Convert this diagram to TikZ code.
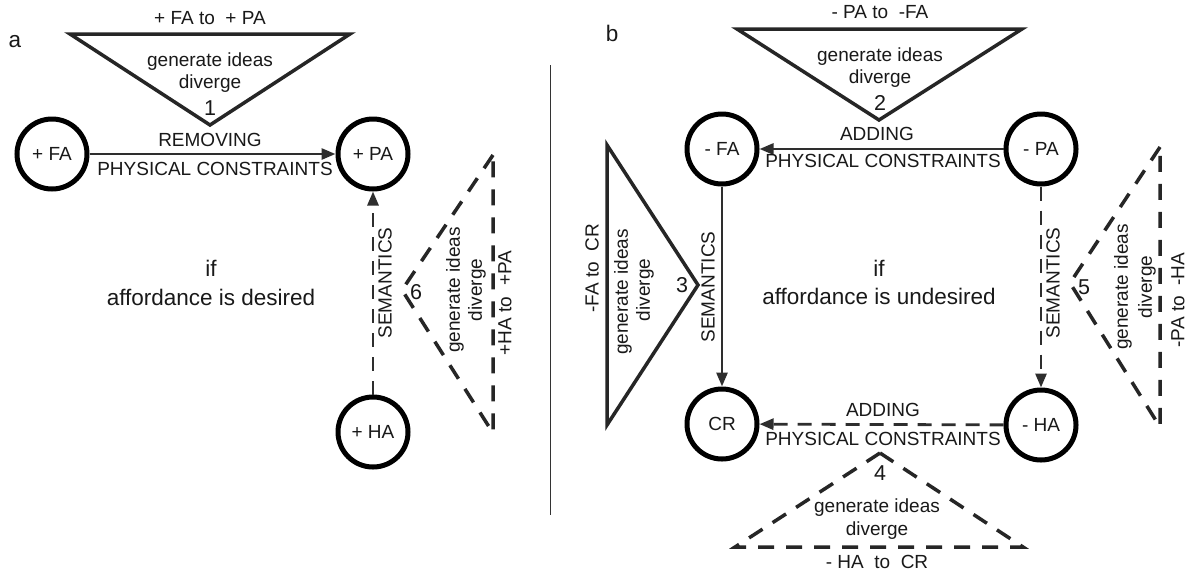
\documentclass[tikz,border=0pt]{standalone}
\usepackage{fontspec}
\setmainfont{Liberation Sans}
\usetikzlibrary{arrows.meta}
\begin{document}
\begin{tikzpicture}[x=1pt,y=-1pt,
  every node/.style={font=\fontsize{19}{22}\selectfont, text=black!90, inner sep=0pt},
  big/.style={font=\fontsize{22.5}{26}\selectfont},
  num/.style={font=\fontsize{21.5}{25}\selectfont},
  state/.style={circle, draw=black, line width=5pt, minimum size=70pt},
  conn/.style={line width=2.8pt, draw=black!82, -{Triangle[length=14pt,width=11pt]}},
  dconn/.style={conn, dash pattern=on 14pt off 10pt},
  tri/.style={line width=3.5pt, draw=black!85, line join=miter},
  dtri/.style={tri, dash pattern=on 16pt off 12pt}
]
\useasboundingbox[fill=white] (0,0) rectangle (1190,574);

% ---------- panel a ----------
\node[big] (la) at (15,42) {a};
\node (t1) at (210,18) {+ FA to \ + PA};
\draw[tri] (70,34) -- (350,34) -- (210,125) -- cycle;
\node (g1) at (210,62) {generate ideas};
\node (d1) at (210,84) {diverge};
\node[num] (n1) at (210,108) {1};

\node[state] (fa) at (52,154) {+ FA};
\node[state] (pa) at (373,154) {+ PA};
\node[state] (ha) at (373,432) {+ HA};

\draw[conn] (fa) -- (pa);
\node (r1) at (210,140) {REMOVING};
\node (p1) at (215,169) {PHYSICAL CONSTRAINTS};

\draw[dconn] (ha) -- (pa);
\node[rotate=90] (s6) at (385,283) {SEMANTICS};

\draw[dtri] (493,155) -- (402,290) -- (493,433) -- cycle;
\node[num] (n6) at (416,292) {6};
\node[rotate=90] (g6) at (455,290) {generate ideas};
\node[rotate=90] (d6) at (477,290) {diverge};
\node[rotate=90] (t6) at (505,303) {+HA to \ +PA};

\node[big] (if1) at (211,268) {if};
\node[big] (af1) at (211,297) {affordance is desired};

% divider
\draw[line width=1pt, black!80] (550,65) -- (550,515);

% ---------- panel b ----------
\node[big] (lb) at (612,33) {b};
\node (t2) at (880,12) {- PA to \ -FA};
\draw[tri] (737,29) -- (1022,29) -- (879,120) -- cycle;
\node (g2) at (880,57) {generate ideas};
\node (d2) at (880,79) {diverge};
\node[num] (n2) at (880,103) {2};

\node[state] (nfa) at (722,149) {- FA};
\node[state] (npa) at (1041,149) {- PA};
\node[state] (cr) at (722,424) {CR};
\node[state] (nha) at (1041,425) {- HA};

\draw[conn] (npa) -- (nfa);
\node (a2) at (877,134) {ADDING};
\node (p2) at (883,161) {PHYSICAL CONSTRAINTS};

\draw[conn] (nfa) -- (cr);
\node[rotate=90] (s3) at (708,287) {SEMANTICS};
\draw[tri] (607,145) -- (698,285) -- (607,425) -- cycle;
\node[num] (n3) at (682,285) {3};
\node[rotate=90] (g3) at (623,292) {generate ideas};
\node[rotate=90] (d3) at (645,290) {diverge};
\node[rotate=90] (t3) at (592,268) {-FA to \ CR};

\draw[dconn] (npa) -- (nha);
\node[rotate=90] (s5) at (1053,283) {SEMANTICS};
\draw[dtri] (1160,147) -- (1070,283) -- (1160,427) -- cycle;
\node[num] (n5) at (1084,287) {5};
\node[rotate=90] (g5) at (1123,287) {generate ideas};
\node[rotate=90] (d5) at (1147,287) {diverge};
\node[rotate=90] (t5) at (1178,300) {-PA to \ -HA};

\draw[dconn] (nha) -- (cr);
\node (a4) at (883,410) {ADDING};
\node (p4) at (883,439) {PHYSICAL CONSTRAINTS};
\draw[dtri] (880,453) -- (735,547) -- (1023,547) -- cycle;
\node[num] (n4) at (880,473) {4};
\node (g4) at (877,508) {generate ideas};
\node (d4) at (877,531) {diverge};
\node (t4) at (877,562) {- HA \ to \ CR};

\node[big] (if2) at (879,268) {if};
\node[big] (af2) at (879,296) {affordance is undesired};
\end{tikzpicture}
\end{document}
